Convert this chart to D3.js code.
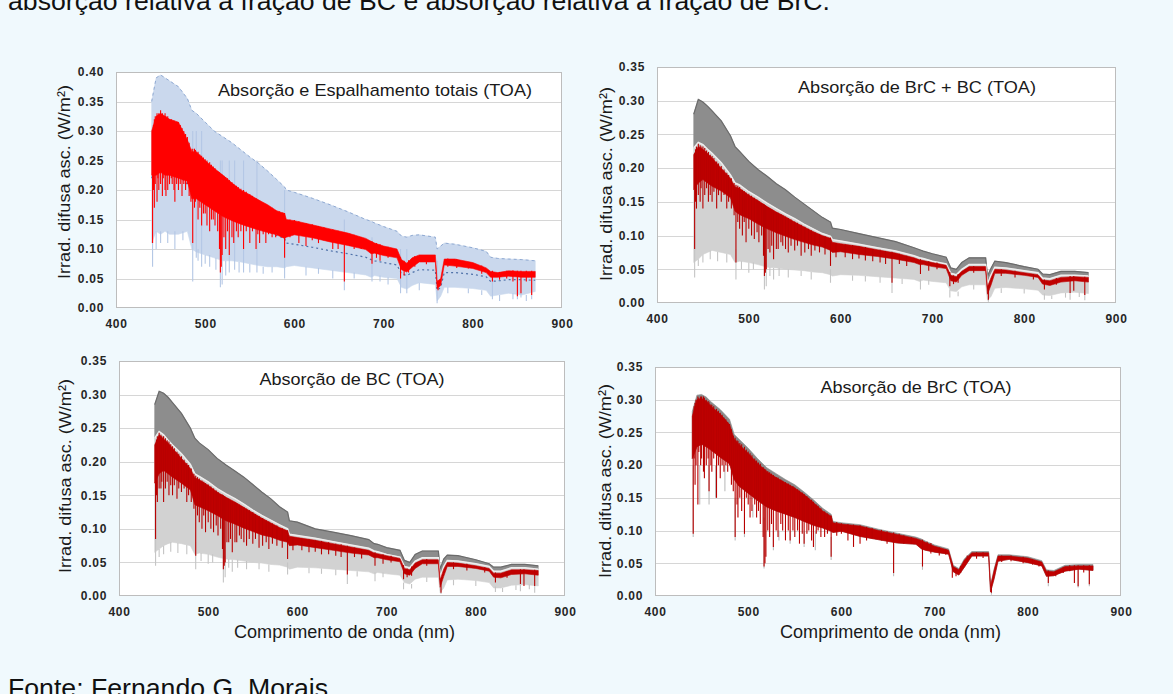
<!DOCTYPE html>
<html>
<head>
<meta charset="utf-8">
<script src="https://cdn.jsdelivr.net/npm/d3@7"></script>
<style>
  html, body { margin: 0; padding: 0; background: #f0f9fd; }
  svg { display: block; font-family: Arial, "Liberation Sans", sans-serif; }
</style>
</head>
<body>
<svg id="fig" width="1173" height="694"></svg>
<script>
// Wavelength grid (nm) shared by every envelope series
const wavelengths = [440,445,450,455,460,470,480,485,490,500,510,520,530,540,550,560,570,580,589,591,600,620,640,660,680,686,690,700,715,720,726,732,740,758,760,764,768,780,800,815,820,828,840,855,870];

const xTicks = [400, 500, 600, 700, 800, 900];
const yTicksTotal = [0, 0.05, 0.10, 0.15, 0.20, 0.25, 0.30, 0.35, 0.40];
const yTicks = [0, 0.05, 0.10, 0.15, 0.20, 0.25, 0.30, 0.35];

// --- Absorção e Espalhamento totais (W/m²) ---
const totBlueTop = [0.350,0.390,0.395,0.390,0.385,0.375,0.355,0.335,0.330,0.315,0.300,0.290,0.280,0.268,0.256,0.245,0.232,0.218,0.205,0.200,0.196,0.186,0.175,0.163,0.150,0.147,0.144,0.138,0.130,0.122,0.120,0.123,0.124,0.120,0.100,0.105,0.110,0.108,0.102,0.096,0.086,0.084,0.083,0.082,0.080];
const totBlueLow = [0.110,0.130,0.125,0.130,0.125,0.125,0.130,0.100,0.095,0.090,0.085,0.080,0.080,0.078,0.075,0.072,0.070,0.070,0.068,0.070,0.072,0.068,0.064,0.060,0.056,0.052,0.055,0.052,0.050,0.035,0.032,0.038,0.043,0.040,0.012,0.020,0.035,0.035,0.033,0.030,0.020,0.022,0.025,0.022,0.028];
const totBlueMid = [0.220,0.240,0.245,0.240,0.235,0.225,0.210,0.200,0.200,0.190,0.180,0.170,0.160,0.152,0.145,0.138,0.130,0.123,0.118,0.110,0.108,0.103,0.097,0.092,0.086,0.082,0.080,0.077,0.073,0.058,0.055,0.060,0.065,0.064,0.030,0.035,0.060,0.060,0.057,0.053,0.045,0.046,0.048,0.048,0.047];
const totRedTop = [0.300,0.325,0.330,0.325,0.320,0.315,0.285,0.265,0.265,0.250,0.237,0.225,0.212,0.200,0.192,0.183,0.175,0.165,0.160,0.150,0.148,0.141,0.134,0.127,0.118,0.113,0.110,0.105,0.100,0.082,0.076,0.085,0.090,0.090,0.045,0.050,0.083,0.083,0.077,0.068,0.062,0.060,0.063,0.062,0.062];
const totRedLow = [0.225,0.225,0.230,0.225,0.225,0.220,0.215,0.185,0.185,0.175,0.165,0.155,0.148,0.142,0.137,0.132,0.128,0.124,0.118,0.120,0.124,0.119,0.112,0.106,0.099,0.092,0.093,0.089,0.085,0.065,0.061,0.069,0.078,0.078,0.033,0.038,0.073,0.071,0.067,0.060,0.052,0.052,0.054,0.052,0.052];
// absorption lines: [wavelength, top, bottom]
const totRedLines = [[441,0.30,0.11],[442,0.31,0.20],[443,0.32,0.17],[444,0.325,0.21],[446,0.33,0.18],[447,0.325,0.22],[448,0.33,0.20],[450,0.335,0.21],[452,0.33,0.19],[453,0.325,0.22],[455,0.33,0.20],[456,0.325,0.19],[458,0.325,0.20],[460,0.32,0.21],[462,0.32,0.22],[463,0.318,0.21],[465,0.318,0.20],[466,0.315,0.18],[468,0.315,0.21],[470,0.315,0.20],[472,0.31,0.21],[474,0.305,0.19],[476,0.30,0.21],[478,0.295,0.20],[480,0.29,0.21],[482,0.28,0.19],[484,0.27,0.18],[486,0.27,0.11],[488,0.27,0.17],[489,0.268,0.18],[492,0.265,0.15],[494,0.26,0.17],[496,0.258,0.14],[498,0.255,0.16],[500,0.252,0.16],[502,0.25,0.14],[505,0.247,0.13],[507,0.243,0.15],[509,0.24,0.15],[511,0.237,0.14],[514,0.232,0.13],[516,0.23,0.10],[517,0.228,0.06],[518,0.227,0.07],[519,0.226,0.09],[521,0.224,0.12],[523,0.222,0.10],[525,0.22,0.13],[527,0.217,0.09],[530,0.213,0.12],[532,0.21,0.11],[535,0.207,0.13],[537,0.205,0.12],[540,0.202,0.13],[543,0.20,0.10],[546,0.197,0.13],[550,0.193,0.11],[553,0.19,0.13],[557,0.186,0.10],[559,0.184,0.125],[561,0.182,0.11],[565,0.178,0.125],[568,0.176,0.11],[571,0.173,0.125],[575,0.17,0.12],[579,0.166,0.12],[583,0.164,0.125],[587,0.162,0.12],[589,0.161,0.085],[595,0.15,0.12],[600,0.149,0.125],[605,0.147,0.11],[613,0.144,0.105],[620,0.142,0.115],[627,0.139,0.11],[633,0.137,0.115],[643,0.133,0.10],[649,0.131,0.10],[656,0.128,0.045],[662,0.126,0.105],[667,0.124,0.10],[675,0.12,0.10],[687,0.113,0.075],[692,0.11,0.085],[696,0.108,0.08],[705,0.104,0.085],[719,0.086,0.05],[723,0.08,0.055],[728,0.081,0.06],[735,0.088,0.07],[748,0.09,0.074],[761,0.047,0.03],[772,0.084,0.07],[782,0.083,0.068],[795,0.078,0.067],[810,0.072,0.058],[822,0.063,0.045],[830,0.061,0.048],[838,0.063,0.05],[845,0.064,0.045],[850,0.063,0.02],[854,0.063,0.025],[860,0.063,0.045],[866,0.063,0.022]];
const totBlueLines = [[441,0.30,0.07],[445,0.13,0.10],[450,0.13,0.11],[458,0.13,0.11],[466,0.13,0.10],[475,0.13,0.115],[486,0.30,0.045],[490,0.30,0.085],[492,0.10,0.08],[496,0.30,0.07],[500,0.09,0.075],[505,0.09,0.07],[512,0.085,0.065],[517,0.25,0.035],[519,0.25,0.04],[523,0.08,0.055],[527,0.25,0.06],[533,0.25,0.065],[538,0.078,0.06],[543,0.25,0.06],[550,0.075,0.06],[558,0.25,0.06],[565,0.07,0.058],[575,0.07,0.06],[589,0.20,0.05],[613,0.07,0.055],[627,0.068,0.058],[643,0.064,0.05],[656,0.15,0.03],[667,0.06,0.05],[687,0.12,0.045],[696,0.055,0.045],[705,0.052,0.04],[719,0.10,0.025],[726,0.10,0.025],[740,0.043,0.03],[760,0.08,0.008],[772,0.035,0.025],[795,0.033,0.025],[810,0.03,0.022],[822,0.06,0.015],[830,0.022,0.012],[845,0.025,0.015],[850,0.06,0.015],[854,0.06,0.018],[860,0.022,0.012],[866,0.06,0.015]];

// --- Absorção de BrC + BC ---
const mixGreyTop = [0.280,0.302,0.298,0.292,0.285,0.270,0.248,0.232,0.225,0.210,0.198,0.188,0.177,0.168,0.157,0.147,0.137,0.127,0.120,0.111,0.109,0.103,0.097,0.091,0.082,0.079,0.077,0.073,0.068,0.052,0.050,0.060,0.067,0.067,0.040,0.052,0.062,0.060,0.054,0.050,0.043,0.042,0.047,0.047,0.045];
const mixGreyLow = [0.230,0.238,0.235,0.228,0.222,0.208,0.190,0.178,0.175,0.165,0.157,0.148,0.140,0.132,0.125,0.117,0.110,0.103,0.099,0.094,0.092,0.087,0.082,0.077,0.070,0.067,0.066,0.062,0.058,0.044,0.042,0.050,0.057,0.057,0.028,0.042,0.053,0.052,0.048,0.045,0.037,0.036,0.041,0.041,0.040];
const mixRedTop = [0.220,0.232,0.228,0.222,0.215,0.200,0.185,0.172,0.170,0.160,0.152,0.143,0.135,0.128,0.120,0.113,0.106,0.100,0.096,0.090,0.088,0.084,0.079,0.074,0.067,0.064,0.063,0.060,0.056,0.041,0.039,0.047,0.054,0.054,0.024,0.038,0.050,0.049,0.045,0.042,0.034,0.033,0.038,0.039,0.038];
const mixRedLow = [0.168,0.178,0.183,0.178,0.173,0.166,0.156,0.136,0.131,0.125,0.117,0.110,0.104,0.099,0.094,0.090,0.086,0.083,0.078,0.075,0.076,0.072,0.069,0.065,0.060,0.057,0.057,0.054,0.051,0.033,0.031,0.041,0.048,0.048,0.013,0.027,0.044,0.044,0.041,0.038,0.028,0.026,0.031,0.033,0.031];
const mixLightLow = [0.060,0.065,0.072,0.075,0.078,0.075,0.072,0.060,0.062,0.060,0.057,0.053,0.052,0.050,0.049,0.048,0.046,0.045,0.042,0.040,0.042,0.041,0.039,0.037,0.035,0.032,0.034,0.032,0.030,0.018,0.017,0.024,0.027,0.027,0.004,0.010,0.022,0.023,0.021,0.019,0.012,0.011,0.015,0.016,0.014];
const mixRedLines = [[441,0.222,0.08],[442,0.228,0.15],[443,0.232,0.14],[445,0.236,0.16],[447,0.234,0.15],[448,0.232,0.17],[450,0.232,0.14],[452,0.23,0.16],[454,0.226,0.17],[456,0.224,0.15],[458,0.22,0.16],[460,0.218,0.15],[462,0.215,0.165],[465,0.21,0.14],[467,0.207,0.16],[470,0.203,0.15],[473,0.198,0.16],[476,0.193,0.14],[478,0.19,0.15],[481,0.185,0.14],[484,0.178,0.13],[486,0.175,0.06],[488,0.174,0.12],[490,0.172,0.11],[493,0.168,0.10],[495,0.166,0.12],[497,0.164,0.09],[500,0.162,0.11],[503,0.159,0.10],[506,0.156,0.095],[509,0.153,0.105],[511,0.151,0.09],[514,0.148,0.10],[516,0.147,0.07],[517,0.146,0.04],[518,0.145,0.045],[519,0.144,0.05],[521,0.142,0.08],[523,0.14,0.075],[525,0.139,0.085],[527,0.137,0.065],[530,0.135,0.08],[532,0.134,0.08],[535,0.132,0.09],[537,0.13,0.085],[540,0.128,0.08],[543,0.126,0.075],[546,0.124,0.085],[550,0.121,0.078],[553,0.119,0.085],[557,0.116,0.07],[561,0.113,0.075],[565,0.11,0.08],[568,0.108,0.07],[572,0.105,0.078],[577,0.102,0.075],[583,0.099,0.072],[589,0.097,0.055],[595,0.089,0.068],[605,0.087,0.068],[613,0.086,0.065],[620,0.084,0.066],[627,0.083,0.063],[635,0.08,0.062],[643,0.079,0.06],[649,0.077,0.058],[656,0.076,0.03],[664,0.073,0.058],[672,0.07,0.055],[687,0.065,0.043],[696,0.062,0.048],[705,0.06,0.05],[719,0.046,0.025],[723,0.041,0.028],[728,0.043,0.03],[745,0.055,0.045],[761,0.026,0.005],[775,0.05,0.04],[790,0.048,0.038],[810,0.043,0.035],[822,0.035,0.02],[835,0.037,0.027],[850,0.04,0.015],[854,0.04,0.018],[866,0.039,0.012]];
const mixLightLines = [[441,0.10,0.038],[445,0.065,0.055],[450,0.072,0.06],[458,0.078,0.065],[466,0.076,0.062],[476,0.073,0.06],[486,0.08,0.035],[492,0.062,0.05],[500,0.06,0.045],[505,0.06,0.05],[517,0.06,0.02],[519,0.06,0.025],[523,0.053,0.04],[527,0.052,0.035],[533,0.052,0.04],[543,0.05,0.038],[557,0.048,0.04],[568,0.046,0.035],[589,0.05,0.03],[613,0.041,0.033],[627,0.04,0.032],[643,0.039,0.03],[656,0.04,0.015],[667,0.036,0.028],[687,0.035,0.02],[696,0.034,0.027],[719,0.02,0.008],[728,0.017,0.01],[745,0.027,0.02],[761,0.01,0.002],[775,0.022,0.015],[800,0.021,0.014],[822,0.014,0.005],[830,0.011,0.006],[845,0.015,0.008],[850,0.016,0.005],[860,0.016,0.009],[866,0.015,0.004]];

// --- Absorção de BC ---
const bcGreyTop = [0.285,0.305,0.302,0.296,0.288,0.272,0.250,0.235,0.228,0.218,0.205,0.195,0.186,0.177,0.166,0.155,0.145,0.133,0.125,0.112,0.110,0.100,0.095,0.090,0.084,0.078,0.077,0.072,0.068,0.053,0.050,0.062,0.067,0.067,0.040,0.055,0.061,0.060,0.054,0.048,0.043,0.043,0.047,0.047,0.045];
const bcGreyLow = [0.235,0.245,0.240,0.232,0.225,0.212,0.196,0.182,0.178,0.170,0.160,0.152,0.145,0.137,0.128,0.120,0.113,0.106,0.100,0.092,0.090,0.086,0.081,0.076,0.071,0.067,0.066,0.062,0.058,0.044,0.042,0.052,0.057,0.057,0.028,0.044,0.053,0.052,0.048,0.044,0.037,0.037,0.042,0.042,0.040];
const bcRedTop = [0.225,0.240,0.234,0.228,0.220,0.205,0.190,0.176,0.173,0.165,0.155,0.147,0.140,0.132,0.124,0.116,0.109,0.102,0.097,0.089,0.087,0.083,0.078,0.073,0.068,0.064,0.063,0.060,0.056,0.041,0.039,0.049,0.054,0.054,0.024,0.040,0.050,0.049,0.045,0.041,0.034,0.034,0.039,0.039,0.038];
const bcRedLow = [0.168,0.182,0.187,0.182,0.177,0.168,0.158,0.136,0.133,0.127,0.120,0.112,0.107,0.101,0.096,0.091,0.088,0.083,0.080,0.075,0.076,0.072,0.068,0.064,0.061,0.057,0.057,0.054,0.051,0.033,0.031,0.041,0.048,0.048,0.013,0.029,0.044,0.044,0.041,0.037,0.028,0.027,0.032,0.033,0.031];
const bcLightLow = [0.065,0.070,0.075,0.078,0.080,0.078,0.075,0.062,0.064,0.062,0.058,0.055,0.054,0.052,0.050,0.049,0.047,0.046,0.043,0.040,0.043,0.042,0.040,0.038,0.036,0.033,0.035,0.033,0.031,0.020,0.018,0.025,0.028,0.028,0.005,0.012,0.024,0.025,0.023,0.020,0.012,0.012,0.016,0.017,0.015];
const bcRedLines = [[441,0.227,0.085],[442,0.233,0.15],[443,0.238,0.14],[445,0.243,0.16],[447,0.24,0.16],[448,0.238,0.17],[450,0.238,0.14],[452,0.235,0.16],[454,0.232,0.17],[456,0.23,0.15],[458,0.226,0.165],[460,0.223,0.15],[462,0.22,0.165],[465,0.215,0.145],[467,0.212,0.16],[470,0.208,0.155],[473,0.203,0.16],[476,0.198,0.14],[478,0.195,0.15],[481,0.19,0.14],[484,0.182,0.13],[486,0.179,0.06],[488,0.177,0.12],[490,0.175,0.11],[493,0.172,0.10],[495,0.17,0.12],[497,0.168,0.095],[500,0.166,0.11],[503,0.163,0.10],[506,0.16,0.095],[509,0.157,0.105],[511,0.155,0.09],[514,0.152,0.10],[516,0.151,0.07],[517,0.15,0.04],[518,0.149,0.045],[519,0.148,0.05],[521,0.146,0.08],[523,0.145,0.08],[525,0.143,0.085],[527,0.141,0.065],[530,0.14,0.08],[532,0.138,0.08],[535,0.136,0.09],[537,0.134,0.085],[540,0.132,0.08],[543,0.13,0.075],[546,0.128,0.085],[550,0.125,0.078],[553,0.122,0.085],[557,0.119,0.072],[561,0.116,0.075],[565,0.113,0.08],[568,0.111,0.07],[572,0.108,0.078],[577,0.105,0.075],[583,0.101,0.072],[589,0.098,0.055],[595,0.088,0.068],[605,0.086,0.068],[613,0.085,0.065],[620,0.083,0.066],[627,0.082,0.062],[635,0.08,0.062],[643,0.078,0.06],[649,0.077,0.058],[656,0.075,0.032],[664,0.072,0.058],[672,0.07,0.056],[687,0.065,0.045],[696,0.062,0.048],[705,0.06,0.05],[719,0.046,0.025],[723,0.041,0.028],[728,0.044,0.03],[745,0.055,0.045],[761,0.026,0.005],[775,0.05,0.04],[790,0.048,0.038],[810,0.043,0.035],[822,0.035,0.02],[835,0.037,0.027],[850,0.04,0.018],[854,0.04,0.015],[866,0.039,0.015]];
const bcLightLines = [[441,0.10,0.045],[445,0.07,0.058],[450,0.075,0.062],[458,0.08,0.066],[466,0.079,0.064],[476,0.076,0.062],[486,0.08,0.04],[492,0.064,0.052],[500,0.062,0.048],[505,0.062,0.05],[517,0.06,0.02],[519,0.06,0.028],[523,0.055,0.042],[527,0.054,0.036],[533,0.054,0.042],[543,0.052,0.04],[557,0.049,0.04],[568,0.047,0.036],[589,0.05,0.032],[613,0.042,0.034],[627,0.041,0.033],[643,0.04,0.031],[656,0.04,0.018],[667,0.037,0.029],[687,0.035,0.022],[696,0.035,0.028],[719,0.02,0.01],[728,0.018,0.011],[745,0.028,0.021],[761,0.01,0.003],[775,0.024,0.016],[800,0.023,0.015],[822,0.014,0.006],[830,0.012,0.006],[845,0.016,0.009],[850,0.017,0.007],[860,0.017,0.01],[866,0.015,0.005]];

// --- Absorção de BrC ---
const brcGreyTop = [0.282,0.307,0.308,0.304,0.297,0.285,0.270,0.247,0.240,0.226,0.210,0.196,0.187,0.178,0.170,0.159,0.147,0.134,0.125,0.114,0.112,0.109,0.102,0.096,0.090,0.087,0.084,0.078,0.072,0.047,0.042,0.057,0.068,0.068,0.017,0.042,0.063,0.063,0.060,0.054,0.040,0.039,0.047,0.048,0.048];
const brcRedTop = [0.275,0.300,0.302,0.298,0.290,0.278,0.262,0.240,0.232,0.218,0.203,0.190,0.181,0.173,0.165,0.155,0.143,0.130,0.122,0.112,0.110,0.107,0.100,0.094,0.088,0.085,0.082,0.076,0.070,0.045,0.040,0.055,0.066,0.066,0.015,0.040,0.061,0.061,0.058,0.052,0.038,0.037,0.045,0.046,0.046];
const brcRedLow = [0.210,0.228,0.232,0.228,0.223,0.212,0.202,0.178,0.168,0.157,0.146,0.136,0.130,0.125,0.120,0.114,0.108,0.104,0.099,0.097,0.099,0.091,0.086,0.081,0.079,0.072,0.070,0.067,0.064,0.037,0.032,0.044,0.061,0.061,0.006,0.027,0.053,0.056,0.051,0.046,0.030,0.031,0.038,0.041,0.039];
const brcRedLines = [[441,0.275,0.095],[442,0.29,0.21],[443,0.295,0.17],[444,0.30,0.20],[446,0.305,0.14],[447,0.303,0.22],[449,0.305,0.20],[450,0.305,0.21],[452,0.305,0.19],[453,0.303,0.18],[455,0.30,0.20],[457,0.298,0.21],[458,0.296,0.16],[460,0.293,0.20],[461,0.292,0.19],[463,0.29,0.21],[466,0.286,0.15],[468,0.283,0.20],[470,0.28,0.18],[472,0.277,0.20],[474,0.273,0.19],[476,0.27,0.20],[478,0.266,0.19],[480,0.263,0.20],[482,0.255,0.17],[484,0.245,0.16],[486,0.242,0.09],[488,0.238,0.14],[489,0.237,0.12],[491,0.234,0.15],[493,0.232,0.13],[496,0.228,0.095],[498,0.224,0.15],[500,0.221,0.14],[502,0.218,0.12],[504,0.215,0.13],[507,0.21,0.14],[509,0.207,0.12],[511,0.204,0.13],[513,0.202,0.11],[516,0.197,0.09],[517,0.195,0.045],[518,0.194,0.05],[519,0.193,0.06],[521,0.191,0.10],[523,0.189,0.09],[525,0.187,0.11],[527,0.185,0.075],[530,0.182,0.10],[532,0.181,0.09],[535,0.178,0.11],[537,0.176,0.10],[540,0.174,0.085],[543,0.172,0.10],[545,0.17,0.085],[548,0.168,0.10],[550,0.166,0.09],[553,0.163,0.10],[555,0.161,0.08],[558,0.158,0.095],[560,0.156,0.08],[563,0.153,0.095],[565,0.15,0.10],[568,0.147,0.085],[570,0.144,0.075],[573,0.14,0.095],[575,0.138,0.10],[578,0.134,0.09],[582,0.129,0.09],[585,0.126,0.095],[589,0.123,0.06],[595,0.113,0.092],[600,0.111,0.095],[607,0.11,0.085],[613,0.109,0.075],[620,0.108,0.08],[627,0.106,0.085],[633,0.104,0.088],[643,0.101,0.085],[649,0.099,0.08],[656,0.097,0.035],[662,0.095,0.082],[667,0.093,0.08],[675,0.09,0.08],[687,0.086,0.045],[692,0.083,0.07],[696,0.081,0.065],[705,0.074,0.062],[712,0.072,0.063],[719,0.05,0.028],[723,0.042,0.03],[728,0.046,0.035],[735,0.062,0.052],[745,0.067,0.057],[752,0.067,0.058],[761,0.016,0.005],[772,0.062,0.052],[782,0.062,0.053],[795,0.06,0.05],[805,0.056,0.048],[812,0.053,0.045],[822,0.039,0.02],[830,0.038,0.03],[838,0.044,0.035],[845,0.047,0.038],[850,0.047,0.02],[854,0.047,0.015],[860,0.047,0.036],[866,0.047,0.018]];
const brcLightLines = [[441,0.20,0.09],[448,0.20,0.14],[458,0.20,0.14],[465,0.20,0.15],[475,0.20,0.16],[486,0.15,0.085],[496,0.14,0.09],[505,0.14,0.12],[517,0.12,0.042],[527,0.10,0.07],[533,0.10,0.085],[545,0.10,0.08],[560,0.10,0.075],[572,0.10,0.07],[589,0.09,0.055],[656,0.08,0.03],[687,0.06,0.04],[761,0.01,0.002],[822,0.03,0.015],[854,0.04,0.013],[866,0.04,0.015]];

const svg = d3.select("#fig");
const FONT = 'Arial, "Liberation Sans", sans-serif';

// Caption text above and source line below the panels
svg.append("text").attr("x", 8).attr("y", 10)
  .attr("font-size", 26).attr("fill", "#111")
  .attr("textLength", 822).attr("lengthAdjust", "spacingAndGlyphs")
  .text("absorção relativa à fração de BC e absorção relativa à fração de BrC.");
svg.append("text").attr("x", 8).attr("y", 697)
  .attr("font-size", 26).attr("fill", "#111")
  .attr("textLength", 320).attr("lengthAdjust", "spacingAndGlyphs")
  .text("Fonte: Fernando G. Morais");

const rows = (hi, lo) => wavelengths.map((w, i) => ({ w, hi: hi[i], lo: lo ? lo[i] : null }));

let clipCount = 0;
function drawPanel(p) {
  const x = d3.scaleLinear().domain([400, 900]).range([p.left, p.right]);
  const y = d3.scaleLinear().domain([0, p.yMax]).range([p.bottom, p.top]);
  const g = svg.append("g");

  g.append("rect").attr("x", p.left).attr("y", p.top)
    .attr("width", p.right - p.left).attr("height", p.bottom - p.top).attr("fill", "#fff");

  g.append("g").selectAll("line").data(p.yTicks.filter(v => v > 0)).join("line")
    .attr("x1", p.left).attr("x2", p.right)
    .attr("y1", d => Math.round(y(d)) + 0.5).attr("y2", d => Math.round(y(d)) + 0.5)
    .attr("stroke", "#d6d6d6").attr("stroke-width", 1);

  const id = "clip" + (clipCount++);
  svg.append("clipPath").attr("id", id).append("rect")
    .attr("x", p.left).attr("y", p.top).attr("width", p.right - p.left).attr("height", p.bottom - p.top);
  const plot = g.append("g").attr("clip-path", `url(#${id})`);

  const area = d3.area().x(d => x(d.w)).y0(d => y(d.lo)).y1(d => y(d.hi));
  const line = d3.line().x(d => x(d.w)).y(d => y(d.hi));

  p.layers.forEach(L => {
    if (L.type === "band") {
      plot.append("path").datum(rows(L.hi, L.lo)).attr("d", area)
        .attr("fill", L.fill).attr("stroke", L.fill).attr("stroke-width", 0.6);
    } else if (L.type === "line") {
      plot.append("path").datum(rows(L.values)).attr("d", line)
        .attr("fill", "none").attr("stroke", L.stroke).attr("stroke-width", L.width || 1)
        .attr("stroke-dasharray", L.dash || null);
    } else if (L.type === "lines") {
      plot.append("g").selectAll("line").data(L.data).join("line")
        .attr("x1", d => x(d[0])).attr("x2", d => x(d[0]))
        .attr("y1", d => y(d[1])).attr("y2", d => y(d[2]))
        .attr("stroke", L.stroke).attr("stroke-width", L.width || 1.1);
    }
  });

  g.append("rect").attr("x", p.left + 0.5).attr("y", p.top + 0.5)
    .attr("width", p.right - p.left - 1).attr("height", p.bottom - p.top - 1)
    .attr("fill", "none").attr("stroke", "#bdbdbd").attr("stroke-width", 1);

  const yAxis = g.append("g").attr("transform", `translate(${p.left},0)`)
    .call(d3.axisLeft(y).tickValues(p.yTicks).tickFormat(d3.format(".2f")).tickSize(0).tickPadding(12));
  const xAxis = g.append("g").attr("transform", `translate(0,${p.bottom})`)
    .call(d3.axisBottom(x).tickValues(xTicks).tickFormat(d3.format("d")).tickSize(0).tickPadding(11));
  [yAxis, xAxis].forEach(a => {
    a.select(".domain").remove();
    a.selectAll("text").attr("font-family", FONT).attr("font-size", 12)
      .attr("font-weight", "bold").attr("fill", "#262626").attr("letter-spacing", 0.7);
  });

  g.append("text").attr("x", p.titleX).attr("y", p.titleY).attr("dy", "0.35em")
    .attr("text-anchor", "middle").attr("font-size", 17).attr("fill", "#1a1a1a")
    .attr("textLength", p.titleW).attr("lengthAdjust", "spacingAndGlyphs")
    .text(p.title);

  g.append("text")
    .attr("transform", `translate(${p.ylabX},${p.ylabY}) rotate(-90)`)
    .attr("dy", "0.35em").attr("text-anchor", "middle")
    .attr("font-size", 17).attr("fill", "#1a1a1a")
    .attr("textLength", 194).attr("lengthAdjust", "spacingAndGlyphs")
    .text("Irrad.  difusa asc. (W/m²)");

  if (p.xlab) {
    g.append("text").attr("x", p.xlabX).attr("y", 632).attr("dy", "0.35em")
      .attr("text-anchor", "middle").attr("font-size", 17.5).attr("fill", "#1a1a1a")
      .attr("textLength", 221).attr("lengthAdjust", "spacingAndGlyphs")
      .text("Comprimento  de onda (nm)");
  }
}

drawPanel({
  left: 116, right: 562, top: 72, bottom: 308, yMax: 0.40, yTicks: yTicksTotal,
  title: "Absorção e Espalhamento totais (TOA)", titleX: 375, titleY: 90, titleW: 314,
  ylabX: 64.5, ylabY: 182,
  layers: [
    { type: "band", hi: totBlueTop, lo: totBlueLow, fill: "#cad8ed" },
    { type: "lines", data: totBlueLines, stroke: "#b4c7e5" },
    { type: "line", values: totBlueTop, stroke: "#8fa9d2", width: 1, dash: "3,3" },
    { type: "line", values: totBlueMid, stroke: "#4f71a8", width: 1.2, dash: "2,3" },
    { type: "band", hi: totRedTop, lo: totRedLow, fill: "#ff0000" },
    { type: "lines", data: totRedLines, stroke: "#ff0000" }
  ]
});

drawPanel({
  left: 657, right: 1116, top: 67, bottom: 303, yMax: 0.35, yTicks: yTicks,
  title: "Absorção de BrC + BC (TOA)", titleX: 917, titleY: 87, titleW: 238,
  ylabX: 606, ylabY: 184,
  layers: [
    { type: "band", hi: mixGreyTop, lo: mixGreyLow, fill: "#8d8d8d" },
    { type: "line", values: mixGreyTop, stroke: "#6b6b6b", width: 1.2 },
    { type: "band", hi: mixGreyLow, lo: mixLightLow, fill: "#d2d2d2" },
    { type: "lines", data: mixLightLines, stroke: "#c4c4c4" },
    { type: "line", values: mixGreyLow, stroke: "#ededed", width: 1.5 },
    { type: "band", hi: mixRedTop, lo: mixRedLow, fill: "#c00000" },
    { type: "lines", data: mixRedLines, stroke: "#b80000" }
  ]
});

drawPanel({
  left: 119, right: 565, top: 361, bottom: 596, yMax: 0.35, yTicks: yTicks,
  title: "Absorção de BC (TOA)", titleX: 352, titleY: 379, titleW: 185,
  ylabX: 65.5, ylabY: 476, xlab: true, xlabX: 344.5,
  layers: [
    { type: "band", hi: bcGreyTop, lo: bcGreyLow, fill: "#8d8d8d" },
    { type: "line", values: bcGreyTop, stroke: "#6b6b6b", width: 1.2 },
    { type: "band", hi: bcGreyLow, lo: bcLightLow, fill: "#d2d2d2" },
    { type: "lines", data: bcLightLines, stroke: "#c4c4c4" },
    { type: "line", values: bcGreyLow, stroke: "#ededed", width: 1.5 },
    { type: "band", hi: bcRedTop, lo: bcRedLow, fill: "#c00000" },
    { type: "lines", data: bcRedLines, stroke: "#b80000" }
  ]
});

drawPanel({
  left: 655, right: 1121, top: 367, bottom: 596, yMax: 0.35, yTicks: yTicks,
  title: "Absorção de BrC (TOA)", titleX: 916, titleY: 387, titleW: 191,
  ylabX: 605, ylabY: 481, xlab: true, xlabX: 890.5,
  layers: [
    { type: "lines", data: brcLightLines, stroke: "#bdbdbd" },
    { type: "band", hi: brcGreyTop, lo: brcRedLow, fill: "#8a8a8a" },
    { type: "band", hi: brcRedTop, lo: brcRedLow, fill: "#c00000" },
    { type: "lines", data: brcRedLines, stroke: "#b80000" }
  ]
});
</script>
</body>
</html>
